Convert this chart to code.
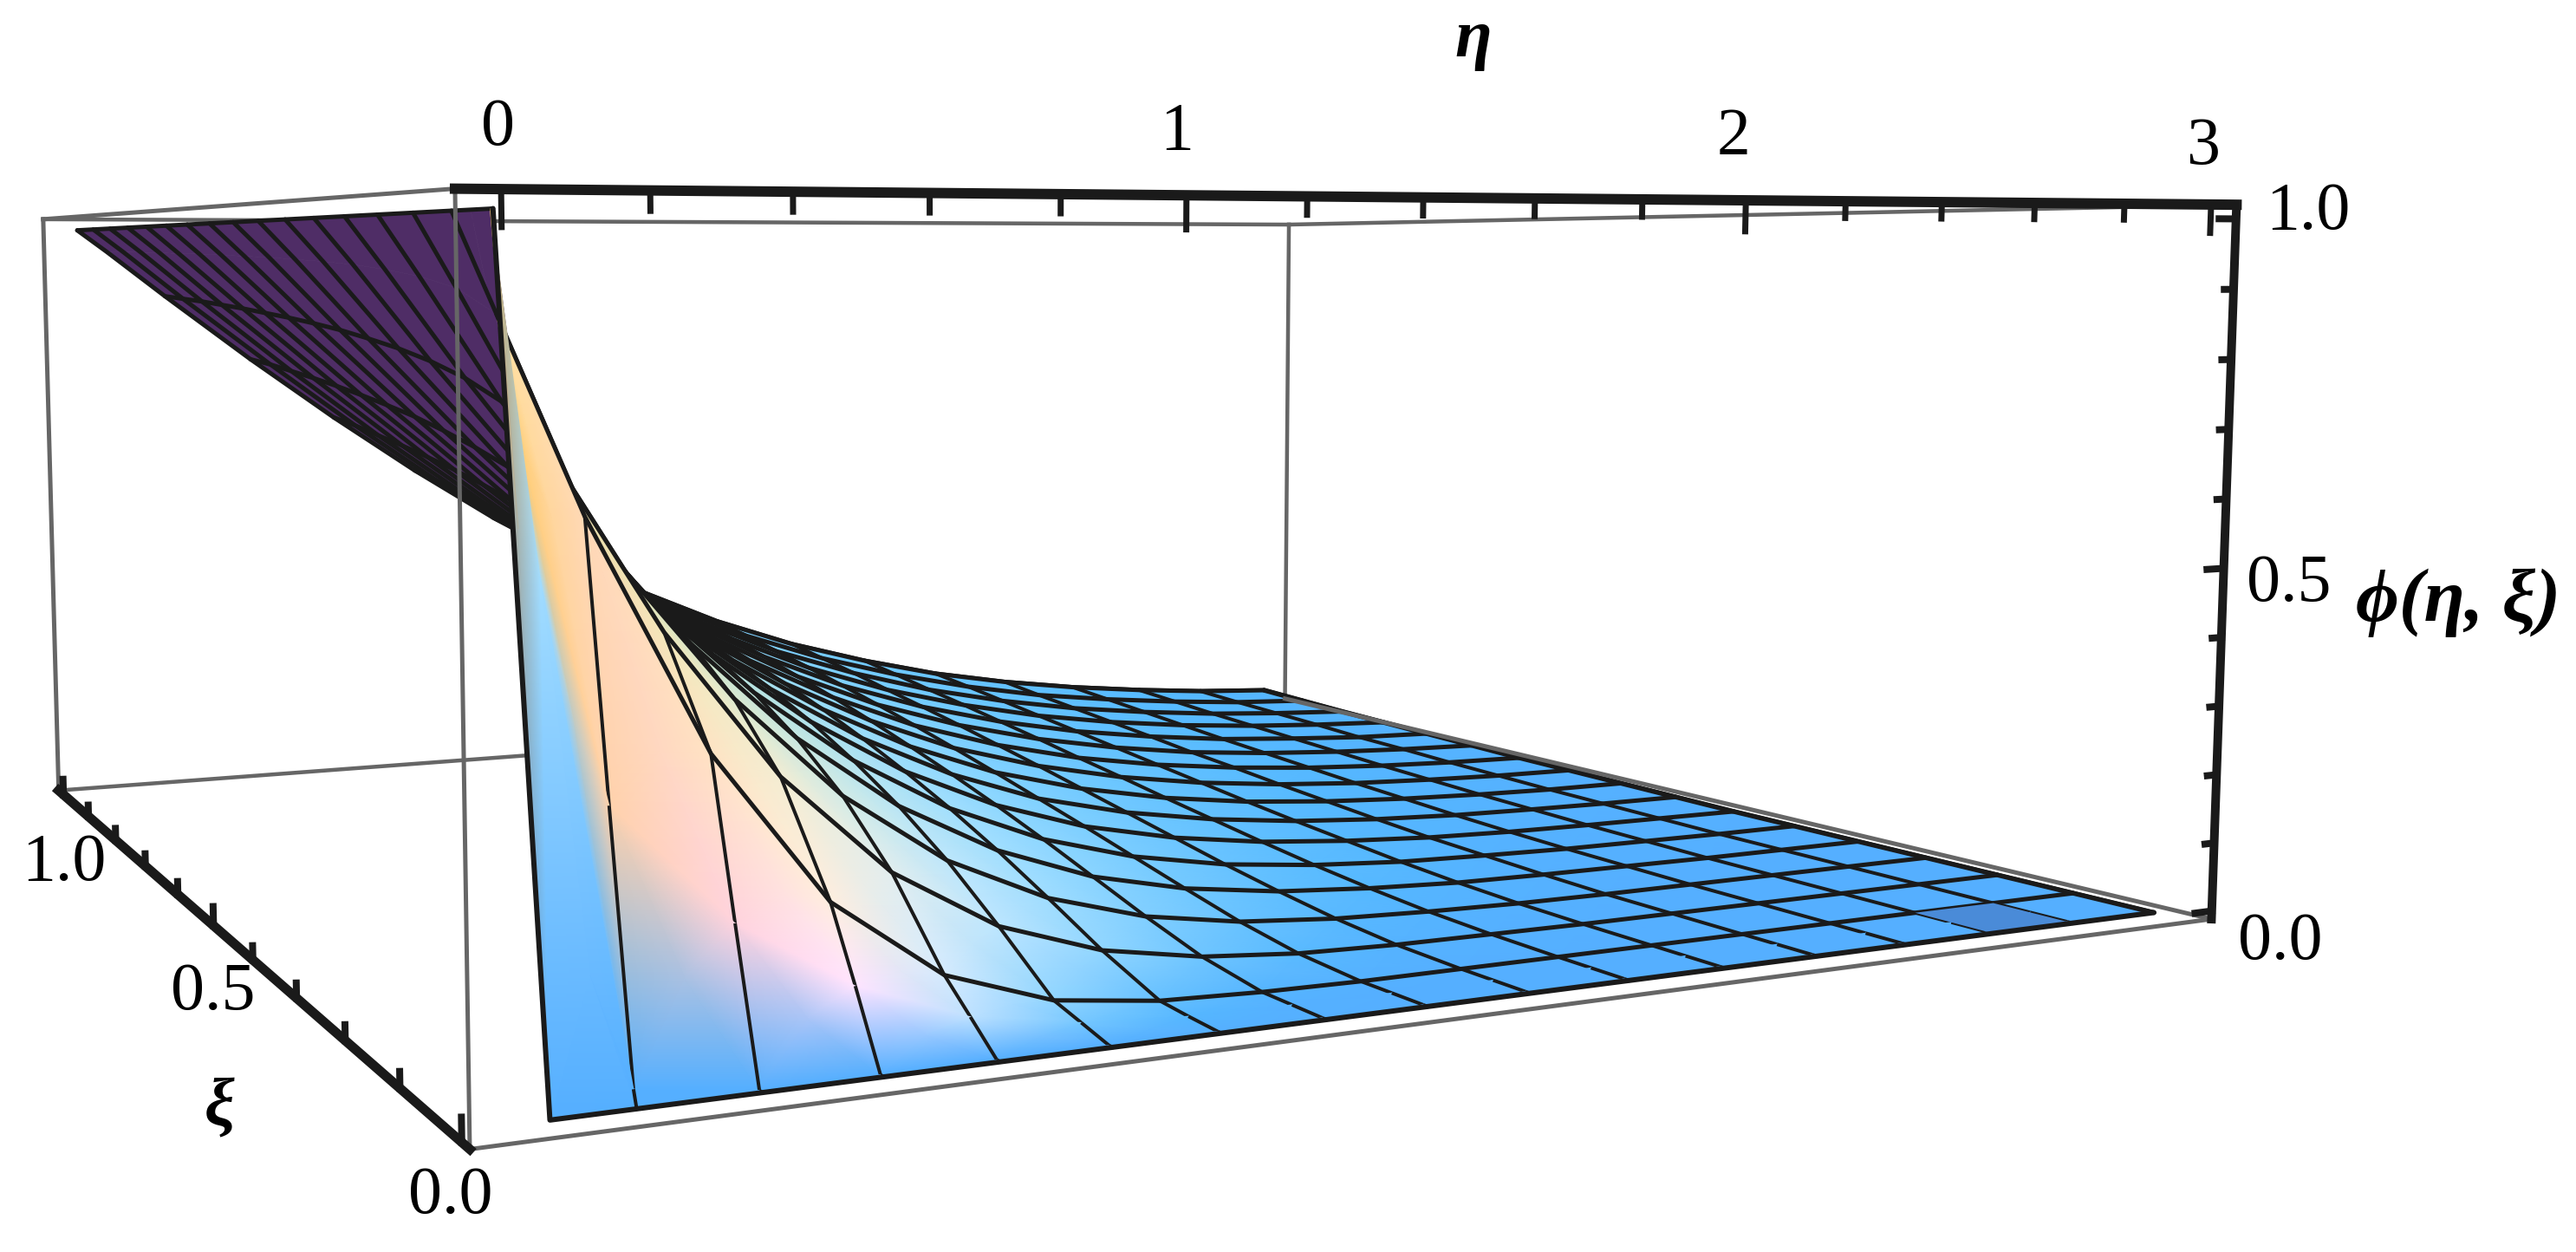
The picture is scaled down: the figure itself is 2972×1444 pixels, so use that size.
import numpy as np, matplotlib
matplotlib.use("Agg")
import matplotlib.pyplot as plt, seaborn as sns
from matplotlib.collections import PolyCollection, LineCollection

eta_values = [0, 0.06, 0.181, 0.3625, 0.544, 0.725, 0.906, 1.0875, 1.269, 1.45, 1.64, 1.83, 2.02, 2.21, 2.40, 2.59, 2.77, 2.96]
xi_values = [0, 0.004, 0.033, 0.0625, 0.125, 0.1875, 0.25, 0.3125, 0.375, 0.4375, 0.5, 0.5625, 0.625, 0.6875, 0.75, 0.8125, 0.875, 0.9375, 1.0]
phi_xi00 = [1, 0, 0, 0, 0, 0, 0, 0, 0, 0, 0, 0, 0, 0, 0, 0, 0, 0]
phi_xi01 = [1, .6, .02, 0, 0, 0, 0, 0, 0, 0, 0, 0, 0, 0, 0, 0, 0, 0]
phi_xia = [1, .75, .33, .18, .09, .036, .012, .003, .001, 0, 0, 0, 0, 0, 0, 0, 0, 0]
phi_xi02 = [1, .885, .653, .368, .177, .072, .024, .007, .002, 0, 0, 0, 0, 0, 0, 0, 0, 0]
phi_xi03 = [1, .913, .733, .495, .306, .172, .088, .041, .017, .006, .002, .001, 0, 0, 0, 0, 0, 0]
phi_xi04 = [1, .926, .772, .562, .384, .246, .147, .082, .042, .020, .009, .004, .001, 0, 0, 0, 0, 0]
phi_xi05 = [1, .934, .796, .605, .438, .301, .196, .121, .070, .039, .020, .010, .004, .002, .001, 0, 0, 0]
phi_xi06 = [1, .940, .813, .636, .478, .344, .237, .156, .098, .059, .033, .018, .009, .005, .002, .001, 0, 0]
phi_xi07 = [1, .944, .826, .660, .510, .379, .272, .187, .124, .079, .048, .028, .016, .008, .004, .002, .001, 0]
phi_xi08 = [1, .947, .836, .679, .535, .408, .301, .215, .148, .098, .063, .039, .023, .013, .007, .004, .002, .001]
phi_xi09 = [1, .950, .845, .695, .557, .433, .327, .240, .170, .117, .078, .050, .031, .019, .011, .006, .003, .002]
phi_xi10 = [1, .952, .852, .709, .575, .455, .350, .262, .191, .135, .093, .062, .040, .025, .015, .009, .005, .003]
phi_xi11 = [1, .954, .858, .720, .591, .473, .370, .282, .210, .152, .107, .073, .049, .032, .020, .012, .007, .004]
phi_xi12 = [1, .956, .863, .730, .605, .490, .388, .301, .227, .168, .121, .085, .058, .038, .025, .016, .010, .006]
phi_xi13 = [1, .957, .868, .739, .617, .505, .405, .317, .244, .183, .134, .096, .067, .046, .030, .020, .012, .008]
phi_xi14 = [1, .959, .872, .747, .628, .519, .420, .333, .259, .197, .146, .107, .076, .053, .036, .024, .016, .010]
phi_xi15 = [1, .960, .876, .754, .638, .531, .434, .347, .273, .210, .159, .117, .085, .060, .042, .028, .019, .012]
phi_xi16 = [1, .961, .879, .761, .648, .542, .446, .361, .286, .223, .170, .128, .094, .067, .048, .033, .022, .015]
phi_xi17 = [1, .962, .882, .766, .656, .553, .458, .373, .299, .235, .181, .138, .102, .075, .054, .038, .026, .018]
eta_major = [0, 1, 2, 3]
eta_ticks = [0, .2, .4, .6, .8, 1, 1.2, 1.4, 1.6, 1.8, 2, 2.2, 2.4, 2.6, 2.8, 3]
unit_ticks = [0, .1, .2, .3, .4, .5, .6, .7, .8, .9, 1]
unit_major = [0, .5, 1]

sns.set_theme(style="white")
plt.rcParams['font.family'] = ['Liberation Serif', 'DejaVu Serif']
plt.rcParams['text.color'] = 'black'

eta = np.array(eta_values)
xi = np.array(xi_values)
phi = np.array([phi_xi00, phi_xi01, phi_xia, phi_xi02, phi_xi03, phi_xi04, phi_xi05, phi_xi06, phi_xi07, phi_xi08,
                phi_xi09, phi_xi10, phi_xi11, phi_xi12, phi_xi13, phi_xi14, phi_xi15, phi_xi16, phi_xi17], float)

# camera: calibrated from the eight corners of the plot box
S = np.array((1 / 3, 1.0, 0.4))
e0, e1, x0, x1, z0, z1 = -.06, 3.06, -.012, 1.02, -.012, 1.02
box_world = np.array([[e0, x0, z0], [e0, x1, z0], [e1, x0, z0], [e1, x1, z0], [e0, x0, z1], [e0, x1, z1], [e1, x0, z1], [e1, x1, z1]])
box_pixel = np.array([[542, 1314], [67, 922], [2550, 1073], [1484, 794], [526, 213], [50, 252], [2581, 235], [1486, 263]], float)
rows = []
for w, p in zip(box_world * S, box_pixel / 1000):
    h = np.array([*w, 1])
    rows.append([*h, 0, 0, 0, 0, *(-p[0] * h)])
    rows.append([0, 0, 0, 0, *h, *(-p[1] * h)])
P = np.linalg.svd(np.array(rows))[2][-1].reshape(3, 4)
P = np.diag([1000, 1000, 1.]) @ P
if (P @ np.array([.5, .5, .2, 1]))[2] < 0:
    P = -P


def proj(e, x, f):
    e, x, f = np.asarray(e, float), np.asarray(x, float), np.asarray(f, float)
    w = np.stack([e * S[0], x * S[1], f * S[2], np.ones_like(e * 1.0 + x + f)], -1)
    q = w @ P.T
    return q[..., 0] / q[..., 2], q[..., 1] / q[..., 2]


# camera rotation, for the lighting
Q, Rr = np.linalg.qr(np.flipud(P[:, :3]).T)
Rt = np.flipud(Q.T)
K = np.flipud(np.fliplr(Rr.T))
Rot = np.diag(np.sign(np.diag(K))) @ Rt

E, XI = np.meshgrid(eta, xi)
fx = np.gradient(phi * S[2], eta * S[0], axis=1)
fy = np.gradient(phi * S[2], xi * S[1], axis=0)
fx[0, 1:] = 0; fy[0, 1:] = 0
fx[1, 2:] = 0; fy[1, 2:] = 0
fx[1, 1] = -.3; fy[1, 1] = .3
n = np.stack([-fx, -fy, np.ones_like(fx)], -1)
n /= np.linalg.norm(n, axis=-1, keepdims=True)
nv = (n @ Rot.T) * np.array([1, -1, -1])
th = np.radians(20)
nv = np.stack([nv[..., 0], nv[..., 1] * np.cos(th) - nv[..., 2] * np.sin(th), nv[..., 2] * np.cos(th) + nv[..., 1] * np.sin(th)], -1)
amb = np.array([.335, .2, .4])
lights = [(np.array([1.5, -.5, .8]), np.array([.95, 0, 0])),
          (np.array([2, 1.4, 1.3]), np.array([0, .74, 0])),
          (np.array([-.15, 1.5, 2.]), np.array([0, 0, .8]))]
col = np.tile(amb, phi.shape + (1,))
for L, c in lights:
    col = col + np.clip(nv @ (L / np.linalg.norm(L)), 0, None)[..., None] * c
col = np.clip(col, 0, 1)

fig = plt.figure(figsize=(29.72, 14.44), dpi=100)
ax = fig.add_axes([0, 0, 1, 1])
ax.set_xlim(0, 2972); ax.set_ylim(1444, 0); ax.axis('off'); ax.autoscale(False)
X, Y = proj(E, XI, phi)
GR = '#666666'
pw = .72


def seg(a, b, c=GR, lw=4.5, z=2):
    p = proj(*zip(a, b))
    ax.plot(p[0], p[1], color=c, lw=lw * pw, zorder=z, solid_capstyle='projecting')


def C(a, b, c):
    return ((e0, e1)[a], (x0, x1)[b], (z0, z1)[c])


for a, b in [(C(0, 1, 0), C(1, 1, 0)), (C(1, 1, 0), C(1, 1, 1)), (C(0, 1, 1), C(1, 1, 1)), (C(1, 1, 1), C(1, 0, 1))]:
    seg(a, b, z=1)

ar = (X[:-1, :-1] - X[1:, 1:]) * (Y[:-1, 1:] - Y[1:, :-1]) - (X[:-1, 1:] - X[1:, :-1]) * (Y[:-1, :-1] - Y[1:, 1:])
front = np.sign(ar) == np.sign(ar[9, 10])
nr, nc = phi.shape
polys = [[(X[i, j], Y[i, j]), (X[i, j + 1], Y[i, j + 1]), (X[i + 1, j + 1], Y[i + 1, j + 1]), (X[i + 1, j], Y[i + 1, j])]
         for i in range(nr - 1) for j in range(nc - 1) if not front[i, j]]
ax.add_collection(PolyCollection(polys, facecolors='#4F2D66', edgecolors='#4F2D66', lw=.5, zorder=3))
mi = [0] + list(range(3, nr))
mj = [0] + list(range(2, nc))


def ln(x, y, z, lw=4):
    if len(x) > 1:
        sns.lineplot(x=x, y=y, estimator=None, sort=False, color='k', lw=lw * pw, ax=ax, zorder=z, legend=False)


# underside mesh
for i in mi[1:]:
    ln(X[i], Y[i], 4, lw=5)
for j in mj:
    ln(X[:, j], Y[:, j], 4, lw=5)

# top side, far strips first; each mesh row lies under the strips nearer to the viewer
fv = np.zeros(phi.shape, bool)
fv[:-1, :-1] |= front; fv[1:, :-1] |= front; fv[:-1, 1:] |= front; fv[1:, 1:] |= front
for i in range(nr - 1):
    js = np.where(front[i])[0]
    if len(js) == 0:
        continue
    a, b = js[0], js[-1] + 2
    z = 6 - i * .02
    ax.pcolormesh(X[i:i + 2, a:b], Y[i:i + 2, a:b], col[i:i + 2, a:b], shading='gouraud', zorder=z)
    segs = [[(X[i, j], Y[i, j]), (X[i + 1, j], Y[i + 1, j])] for j in range(a, b) if j in mj]
    ax.add_collection(LineCollection(segs, colors='k', linewidths=(4 * pw), zorder=z + .001))
    if i + 1 in mi:
        m = fv[i + 1]
        ln(X[i + 1][m], Y[i + 1][m], z + .002, lw=5)

j0, j1 = 15, 16
ir = [0, 3]
px = [X[i, j0] for i in ir] + [X[i, j1] for i in ir[::-1]]
py = [Y[i, j0] for i in ir] + [Y[i, j1] for i in ir[::-1]]
ax.fill(px, py, color='#4A8BD8', zorder=6.5, lw=0)
ln(X[0], Y[0], 6.6, lw=6)
ln(X[:, nc - 1], Y[:, nc - 1], 6.6, lw=5.5)

for a, b in [(C(0, 0, 0), C(1, 0, 0)), (C(1, 0, 0), C(1, 1, 0)), (C(0, 0, 0), C(0, 0, 1)), (C(0, 1, 0), C(0, 1, 1)), (C(0, 0, 1), C(0, 1, 1))]:
    seg(a, b, lw=5, z=7)
seg(C(0, 0, 1), C(1, 0, 1), 'k', 12, 8)
seg(C(1, 0, 0), C(1, 0, 1), 'k', 10, 8)
seg(C(0, 0, 0), C(0, 1, 0), 'k', 11, 8)
for t in eta_ticks:
    seg((t, x0, z1), (t, x0, z1 - (.04 if t in eta_major else .022)), 'k', 7, 8)
for t in unit_ticks:
    big = t in unit_major
    seg((e0, t, z0), (e0, t, z0 + (.028 if big else .02)), 'k', 8, 8)
    seg((e1, x0, t), (e1 - (.04 if big else .022), x0, t), 'k', 8, 8)

fs = 56
for s, x, y in [('0', 574, 148), ('1', 1358, 153), ('2', 2000, 159), ('3', 2541, 170), ('1.0', 2663, 245), ('0.5', 2641, 674),
                ('0.0', 2631, 1087), ('1.0', 74, 996), ('0.5', 246, 1145), ('0.0', 520, 1380)]:
    ax.text(x, y, s, fontsize=fs, ha='center', va='center', zorder=9)
ax.text(1700, 47, 'η', fontsize=fs, style='italic', weight='bold', ha='center', va='center')
ax.text(253, 1278, 'ξ', fontsize=fs, style='italic', weight='bold', ha='center', va='center')
ax.text(2836, 695, 'ϕ(η, ξ)', fontsize=62, style='italic', weight='bold', ha='center', va='center')
fig.savefig('out.png', dpi=100)
